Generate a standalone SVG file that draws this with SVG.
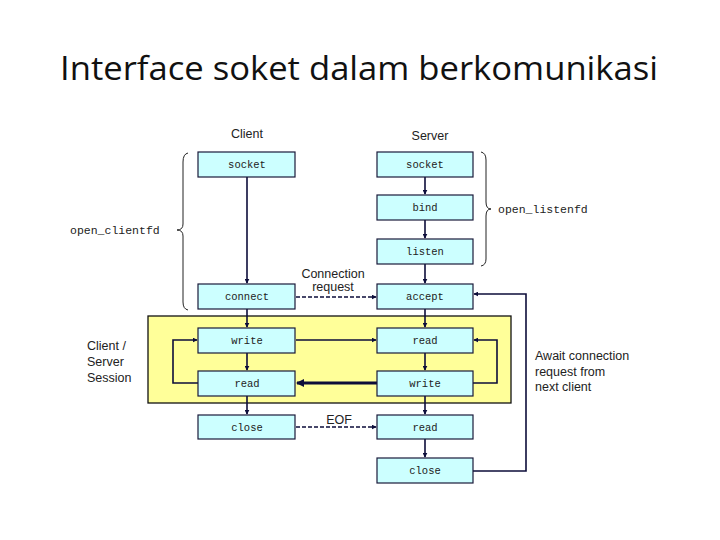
<svg xmlns="http://www.w3.org/2000/svg" width="720" height="540" viewBox="0 0 720 540">
<defs>
<style>
.box{fill:#ccffff;stroke:#1a1a3a;stroke-width:1.2}
.bt{font-family:"Liberation Mono",monospace;font-size:10.5px;fill:#222;text-anchor:middle}
.lbl{font-family:"Liberation Sans",Arial,sans-serif;font-size:12.5px;fill:#222}
.ln{fill:none;stroke:#0d0d3a;stroke-width:1.6}
.thick{fill:none;stroke:#0d0d3a;stroke-width:3}
.dash{fill:none;stroke:#0d0d3a;stroke-width:1.6;stroke-dasharray:4 2}
.br{fill:none;stroke:#222;stroke-width:1}
</style>
<marker id="ah" viewBox="0 0 8 8" refX="7" refY="4" markerWidth="5" markerHeight="5" orient="auto" markerUnits="userSpaceOnUse">
<path d="M0,0 L8,4 L0,8 z" fill="#0d0d3a"/>
</marker>
<marker id="ahb" viewBox="0 0 8 8" refX="7" refY="4" markerWidth="8" markerHeight="8" orient="auto" markerUnits="userSpaceOnUse">
<path d="M0,0 L8,4 L0,8 z" fill="#0d0d3a"/>
</marker>
</defs>
<rect width="720" height="540" fill="#fff"/>
<text x="359" y="80" font-family="'Open Sans','Liberation Sans',sans-serif" font-size="33" fill="#111" text-anchor="middle" textLength="598" lengthAdjust="spacingAndGlyphs">Interface soket dalam berkomunikasi</text>

<rect id="session" x="148" y="316" width="363" height="87" fill="#ffff99" stroke="#111" stroke-width="1.3"/>

<g id="headers">
<text class="lbl" x="247" y="138" text-anchor="middle">Client</text>
<text class="lbl" x="430" y="140" text-anchor="middle">Server</text>
<text class="lbl" x="333" y="278" text-anchor="middle">Connection</text>
<text class="lbl" x="333" y="291" text-anchor="middle">request</text>
<text class="lbl" x="87" y="350">Client /</text>
<text class="lbl" x="87" y="366">Server</text>
<text class="lbl" x="87" y="382">Session</text>
<text class="lbl" x="535" y="360">Await connection</text>
<text class="lbl" x="535" y="376">request from</text>
<text class="lbl" x="535" y="391">next client</text>
<text class="lbl" x="339" y="424" text-anchor="middle">EOF</text>
</g>

<g id="braces">
<path class="br" d="M188,153 Q183,154 183,162 L183,224 Q183,230 177,230 Q183,230 183,236 L183,302 Q183,309 188,310"/>
<text x="70" y="234" font-family="'Liberation Mono',monospace" font-size="11.5" fill="#222">open_clientfd</text>
<path class="br" d="M481,152 Q486,153 486,160 L486,202 Q486,209 491,209 Q486,209 486,216 L486,259 Q486,265 481,266"/>
<text x="498" y="213" font-family="'Liberation Mono',monospace" font-size="11.5" fill="#222">open_listenfd</text>
</g>

<g id="connectors">
<path class="ln" d="M247,177 L247,283" marker-end="url(#ah)"/>
<path class="ln" d="M247,309 L247,327" marker-end="url(#ah)"/>
<path class="ln" d="M247,353 L247,370" marker-end="url(#ah)"/>
<path class="ln" d="M247,396 L247,414" marker-end="url(#ah)"/>
<path class="ln" d="M425,177 L425,194" marker-end="url(#ah)"/>
<path class="ln" d="M425,220 L425,238" marker-end="url(#ah)"/>
<path class="ln" d="M425,264 L425,283" marker-end="url(#ah)"/>
<path class="ln" d="M425,309 L425,327" marker-end="url(#ah)"/>
<path class="ln" d="M425,353 L425,370" marker-end="url(#ah)"/>
<path class="ln" d="M425,396 L425,414" marker-end="url(#ah)"/>
<path class="ln" d="M425,439 L425,457" marker-end="url(#ah)"/>
<path class="dash" d="M296,297 L376,297" marker-end="url(#ah)"/>
<path class="dash" d="M296,427 L376,427" marker-end="url(#ah)"/>
<path class="ln" d="M296,340 L376,340" marker-end="url(#ah)"/>
<path class="thick" d="M377,383 L297,383" marker-end="url(#ahb)"/>
<path class="ln" d="M198,383 L173,383 L173,340 L197,340" marker-end="url(#ah)"/>
<path class="ln" d="M473,383 L497,383 L497,340 L474,340" marker-end="url(#ah)"/>
<path class="ln" d="M473,471 L526,471 L526,294 L474,294" marker-end="url(#ah)"/>
</g>

<g id="c-socket"><rect class="box" x="198" y="152" width="97" height="25"/><text class="bt" x="247" y="168">socket</text></g>
<g id="c-connect"><rect class="box" x="198" y="284" width="97" height="25"/><text class="bt" x="247" y="300">connect</text></g>
<g id="c-write"><rect class="box" x="198" y="328" width="97" height="25"/><text class="bt" x="247" y="344">write</text></g>
<g id="c-read"><rect class="box" x="198" y="371" width="97" height="25"/><text class="bt" x="247" y="387">read</text></g>
<g id="c-close"><rect class="box" x="198" y="415" width="97" height="24"/><text class="bt" x="247" y="431">close</text></g>

<g id="s-socket"><rect class="box" x="377" y="152" width="96" height="25"/><text class="bt" x="425" y="168">socket</text></g>
<g id="s-bind"><rect class="box" x="377" y="195" width="96" height="25"/><text class="bt" x="425" y="211">bind</text></g>
<g id="s-listen"><rect class="box" x="377" y="239" width="96" height="25"/><text class="bt" x="425" y="255">listen</text></g>
<g id="s-accept"><rect class="box" x="377" y="284" width="96" height="25"/><text class="bt" x="425" y="300">accept</text></g>
<g id="s-read"><rect class="box" x="377" y="328" width="96" height="25"/><text class="bt" x="425" y="344">read</text></g>
<g id="s-write"><rect class="box" x="377" y="371" width="96" height="25"/><text class="bt" x="425" y="387">write</text></g>
<g id="s-read2"><rect class="box" x="377" y="415" width="96" height="24"/><text class="bt" x="425" y="431">read</text></g>
<g id="s-close"><rect class="box" x="377" y="458" width="96" height="25"/><text class="bt" x="425" y="474">close</text></g>
</svg>
